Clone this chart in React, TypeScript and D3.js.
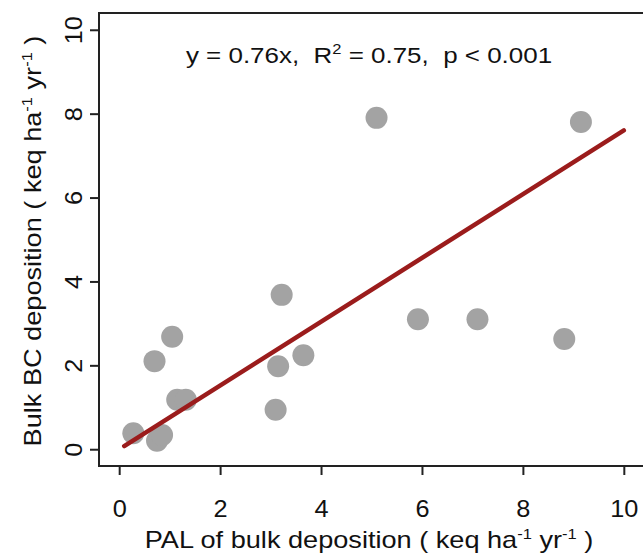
import React, { useEffect, useRef } from 'react'
import * as d3 from 'd3'

// PAL of bulk deposition vs bulk BC deposition (keq ha-1 yr-1)
const palValues = [5.1, 9.15, 3.22, 1.05, 0.7, 3.15, 3.65, 1.15, 1.32, 3.1, 0.28, 0.75, 0.85, 5.92, 7.1, 8.82]
const bcValues = [7.9, 7.8, 3.68, 2.68, 2.1, 1.98, 2.24, 1.18, 1.18, 0.94, 0.38, 0.2, 0.34, 3.1, 3.1, 2.63]
const fitX = [0.1, 10]
const slope = 0.76
const tickValues = [0, 2, 4, 6, 8, 10]

const width = 643
const height = 556
const font = 'Liberation Sans, Arial, sans-serif'
const stretch = 1.18

export default function App () {
  const ref = useRef<SVGSVGElement>(null)

  useEffect(() => {
    const svg = d3.select(ref.current)
    svg.selectAll('*').remove()

    const xScale = d3.scaleLinear().domain([-0.4, 10.4]).range([99, 644])
    const yScale = d3.scaleLinear().domain([-0.4, 10.4]).range([466, 13])

    // points
    svg.append('g')
      .selectAll('circle')
      .data(palValues.map((x, i) => ({ x, y: bcValues[i] })))
      .join('circle')
      .attr('cx', d => xScale(d.x))
      .attr('cy', d => yScale(d.y))
      .attr('r', 11)
      .attr('fill', '#a3a3a3')

    // fit line
    const line = d3.line<number>()
      .x(d => xScale(d))
      .y(d => yScale(d * slope))
    svg.append('path')
      .datum(fitX)
      .attr('d', line)
      .attr('stroke', '#9b1c1c')
      .attr('stroke-width', 4.5)
      .attr('stroke-linecap', 'round')
      .attr('fill', 'none')

    // box
    svg.append('rect')
      .attr('x', 99).attr('y', 13)
      .attr('width', 545).attr('height', 453)
      .attr('fill', 'none')
      .attr('stroke', '#222')
      .attr('stroke-width', 2)

    // x axis
    const xAxis = svg.append('g')
      .attr('transform', 'translate(0,466)')
      .call(d3.axisBottom(xScale).tickValues(tickValues).tickSize(9))
    xAxis.select('.domain').remove()
    xAxis.selectAll('line').attr('stroke', '#222').attr('stroke-width', 2)
    xAxis.selectAll('text').remove()
    xAxis.selectAll('.tick')
      .append('text')
      .attr('transform', 'translate(0,51) scale(1.1,1)')
      .attr('text-anchor', 'middle')
      .attr('font-family', font).attr('font-size', 23).attr('fill', '#111')
      .text(d => String(d))

    // y axis
    const yAxis = svg.append('g')
      .attr('transform', 'translate(99,0)')
      .call(d3.axisLeft(yScale).tickValues(tickValues).tickSize(9))
    yAxis.select('.domain').remove()
    yAxis.selectAll('line').attr('stroke', '#222').attr('stroke-width', 2)
    yAxis.selectAll('text').remove()
    yAxis.selectAll('.tick')
      .append('text')
      .attr('transform', 'translate(-17,0) rotate(-90) scale(1.1,1)')
      .attr('text-anchor', 'middle')
      .attr('font-family', font).attr('font-size', 23).attr('fill', '#111')
      .text(d => String(d))

    // axis titles with superscripts
    const addTitle = (g: d3.Selection<SVGTextElement, unknown, null, undefined>, lead: string) => {
      g.append('tspan').text(lead + ' ( keq ha')
      g.append('tspan').attr('font-size', 14).attr('dy', -9).text('-1')
      g.append('tspan').attr('dy', 9).text(' yr')
      g.append('tspan').attr('font-size', 14).attr('dy', -9).text('-1')
      g.append('tspan').attr('dy', 9).text(' )')
    }

    const xTitle = svg.append('text')
      .attr('transform', `translate(369,548) scale(${stretch},1)`)
      .attr('text-anchor', 'middle')
      .style('white-space', 'pre')
      .attr('font-family', font).attr('font-size', 23).attr('fill', '#111')
    addTitle(xTitle, 'PAL of bulk deposition')

    const yTitle = svg.append('text')
      .attr('transform', `translate(41,241) rotate(-90) scale(${stretch},1)`)
      .attr('text-anchor', 'middle')
      .style('white-space', 'pre')
      .attr('font-family', font).attr('font-size', 23).attr('fill', '#111')
    addTitle(yTitle, 'Bulk BC deposition')

    // equation
    const eq = svg.append('text')
      .attr('transform', `translate(369,63) scale(${stretch},1)`)
      .attr('text-anchor', 'middle')
      .style('white-space', 'pre')
      .attr('font-family', font).attr('font-size', 22).attr('fill', '#111')
    eq.append('tspan').text('y = 0.76x,  R')
    eq.append('tspan').attr('font-size', 14).attr('dy', -9).text('2')
    eq.append('tspan').attr('dy', 9).text(' = 0.75,  p < 0.001')
  }, [])

  return (
    <svg ref={ref} width={width} height={height}
      style={{ position: 'absolute', left: 0, top: 0, background: '#fff' }} />
  )
}
